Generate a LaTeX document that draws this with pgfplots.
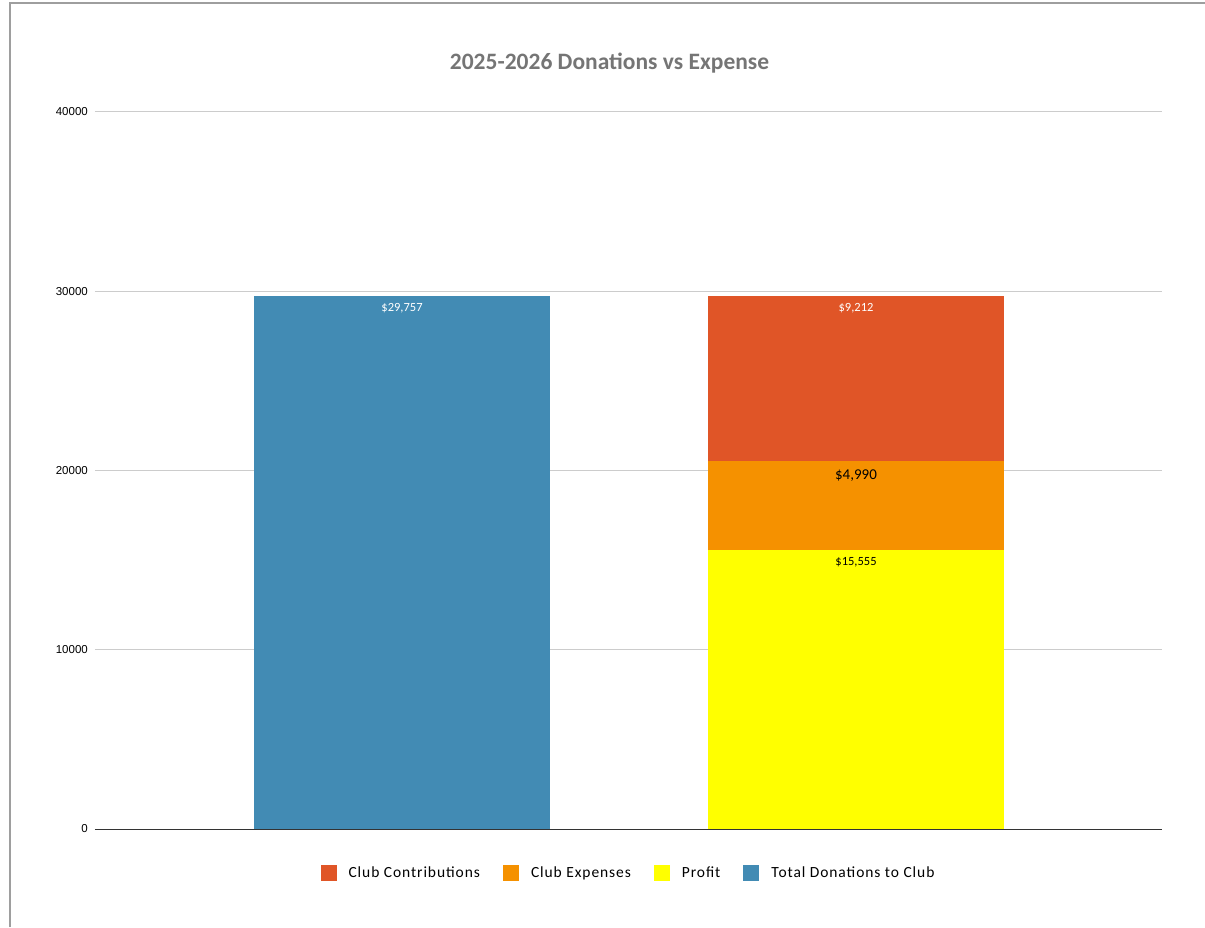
\documentclass[border=0pt]{standalone}
\usepackage{pgfplots}
\pgfplotsset{compat=1.18}
\usepackage{fontspec}
\setmainfont{Carlito}
\newfontfamily\tickfont{Liberation Sans}
\newfontfamily\legfont[LetterSpace=6]{Carlito}
\definecolor{cblue}{HTML}{428BB4}
\definecolor{cred}{HTML}{E05527}
\definecolor{corange}{HTML}{F59100}
\definecolor{cyellow}{HTML}{FFFF00}
\definecolor{gridc}{HTML}{CCCCCC}
\definecolor{titlegray}{HTML}{757575}
\begin{document}
\begin{tikzpicture}[x=1pt,y=1pt]
\useasboundingbox (0,0) rectangle (1205,927);
\draw[color=black!38, line width=1.5pt] (10,0) -- (10,924) -- (1205,924);
\node[font=\fontsize{23.5}{27}\selectfont\bfseries, text=titlegray] at (609.5,864) {2025-2026 Donations vs Expense};
\begin{axis}[
  at={(95pt,98pt)}, anchor=south west, scale only axis,
  width=1067pt, height=717pt,
  xmin=-0.6762, xmax=1.674, ymin=0, ymax=40000,
  ybar stacked, bar width=296pt,
  xtick=\empty,
  ytick={0,10000,20000,30000,40000},
  scaled y ticks=false,
  ymajorgrids, grid style={gridc, line width=1pt},
  major tick length=0pt,
  axis x line*=bottom, axis y line*=left,
  y axis line style={draw=none},
  x axis line style={draw=black!80, line width=1pt, -},
  yticklabel style={font=\tickfont\fontsize{11.5}{13}\selectfont, inner sep=0pt, xshift=-7pt},
  /pgf/number format/.cd, fixed, 1000 sep={}, assume math mode=true,
  /pgfplots/.cd,
  point meta=explicit symbolic,
  nodes near coords,
  legend image code/.code={\fill[#1] (0pt,-8pt) rectangle (16pt,8pt);},
  reverse legend,
  legend style={draw=none, at={(0.5,-0.0614)}, anchor=center, legend columns=4,
    font=\legfont\fontsize{15.5}{17}\selectfont,
    /tikz/every odd column/.append style={column sep=10pt},
    /tikz/every even column/.append style={column sep=21pt}},
]
\addplot[fill=cblue, draw=none,
  every node near coord/.append style={font=\fontsize{12.5}{14}\selectfont, text=white, anchor=north, inner sep=0pt, yshift=259.4pt}]
  coordinates {(0,29757) [\$29,757] (1,0) []};
\addlegendentry{Total Donations to Club}
\addplot[fill=cyellow, draw=none,
  every node near coord/.append style={font=\fontsize{12.5}{14}\selectfont, text=black, anchor=north, inner sep=0pt, yshift=131.9pt}]
  coordinates {(0,0) [] (1,15555) [\$15,555]};
\addlegendentry{Profit}
\addplot[fill=corange, draw=none,
  every node near coord/.append style={font=\fontsize{15}{17}\selectfont, text=black, anchor=north, inner sep=0pt, yshift=35.7pt}]
  coordinates {(0,0) [] (1,4990) [\$4,990]};
\addlegendentry{Club Expenses}
\addplot[fill=cred, draw=none,
  every node near coord/.append style={font=\fontsize{12.5}{14}\selectfont, text=white, anchor=north, inner sep=0pt, yshift=75.3pt}]
  coordinates {(0,0) [] (1,9212) [\$9,212]};
\addlegendentry{Club Contributions}
\end{axis}
\end{tikzpicture}
\end{document}
